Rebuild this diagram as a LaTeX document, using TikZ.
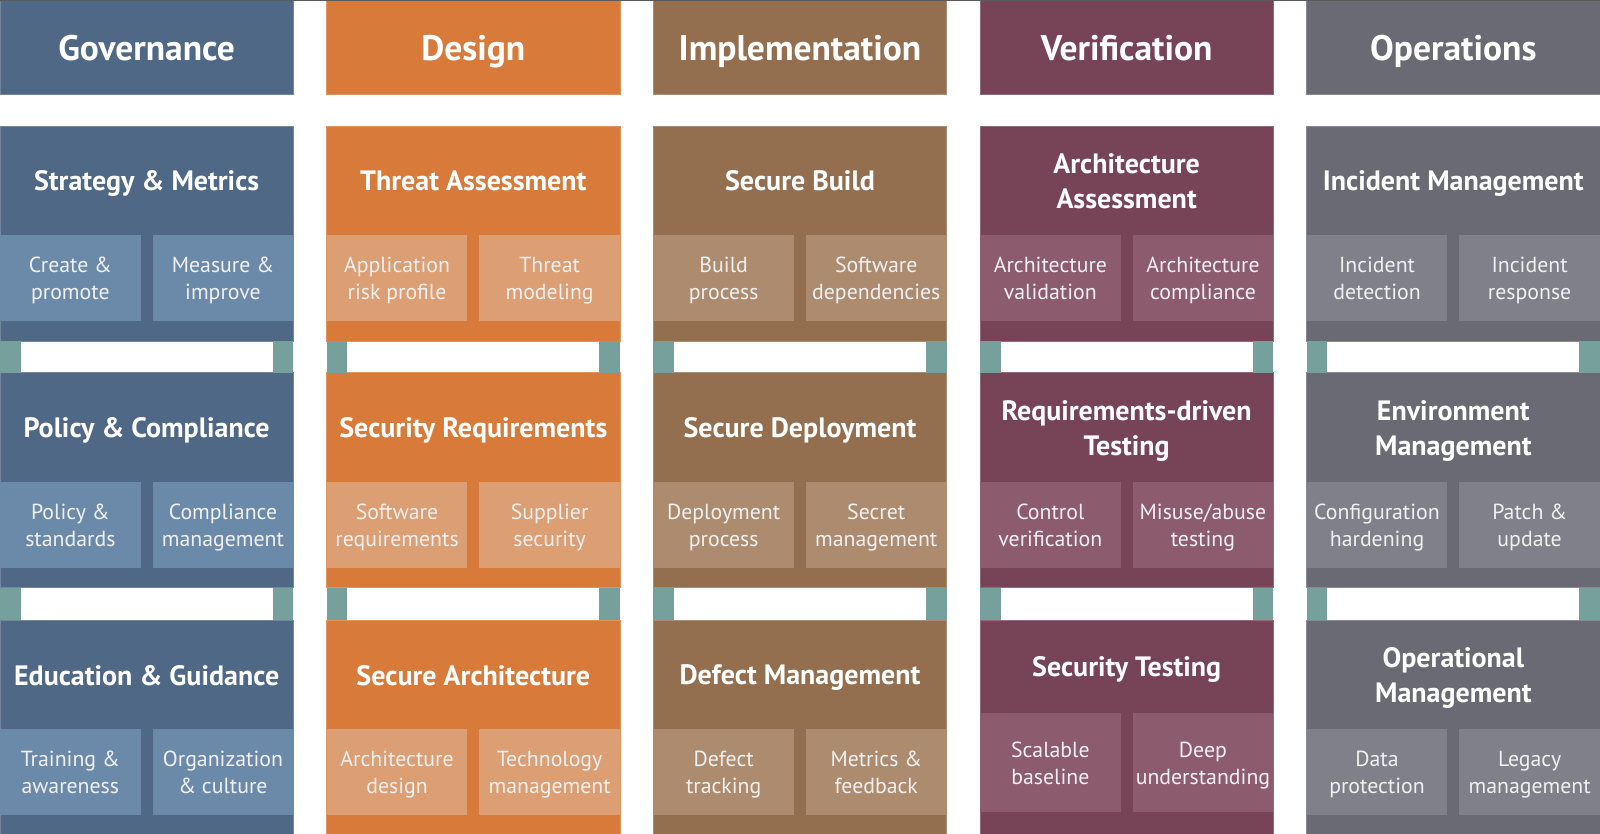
\documentclass[tikz,border=0pt]{standalone}
\usepackage{fontspec}
\setmainfont{PT Sans}
\definecolor{govD}{HTML}{4F6885}\definecolor{govL}{HTML}{6B8AAA}
\definecolor{desD}{HTML}{D87B3A}\definecolor{desL}{HTML}{DC9E73}
\definecolor{impD}{HTML}{946F4F}\definecolor{impL}{HTML}{AD8B6F}
\definecolor{verD}{HTML}{774357}\definecolor{verL}{HTML}{8C5B6E}
\definecolor{opsD}{HTML}{6A6A74}\definecolor{opsL}{HTML}{80808A}
\definecolor{tealc}{HTML}{76A09C}
\definecolor{topline}{HTML}{5A5A5A}
% line strut centred on the cap height
\newcommand\ls{\rule[-0.2em]{0pt}{1.15em}}
\tikzset{
  box/.style={anchor=north west, inner sep=0pt, outer sep=0pt, align=center, text=white},
  headbox/.style={box, minimum width=293.3pt, minimum height=94pt, font=\fontsize{35.5}{40}\selectfont\bfseries},
  blockbg/.style={box, minimum width=293.3pt, minimum height=215pt},
  titlebox/.style={box, minimum width=293.3pt, font=\fontsize{28}{35}\selectfont\bfseries},
  subbox/.style={box, minimum width=140.7pt, text=white!94!black, font=\fontsize{21.8}{27}\selectfont},
  tealbar/.style={fill=tealc},
}
% #1 name, #2 x, #3 y, #4 colour prefix, #5 title, #6 sub a, #7 sub b, #8 title height, #9 sub height
\newcommand\practice[9]{%
  \node[blockbg, fill=#4D, draw=#4D!80!white, line width=0.6pt] (#1) at (#2,#3) {};
  \node[titlebox, minimum height=#8pt] (#1-t) at (#2,#3) {\ls #5};
  \node[subbox, fill=#4L, minimum height=#9pt] (#1-a) at (#2,{#3+#8}) {\ls #6};
  \node[subbox, fill=#4L, minimum height=#9pt] (#1-b) at ({#2+152.6},{#3+#8}) {\ls #7};
}
\newcommand\link[2]{%
  \fill[tealbar] (#1.south west) rectangle ([xshift=20.7pt]#2.north west);
  \fill[tealbar] ([xshift=-20.7pt]#1.south east) rectangle (#2.north east);
}
\begin{document}
\begin{tikzpicture}[x=1pt,y=-1pt]
\useasboundingbox[fill=white] (0,0) rectangle (1600,834);
\begin{scope}
\clip (0,0) rectangle (1600,834);
% headers
\node[headbox, fill=govD, draw=govD!80!white, line width=0.6pt] (h1) at (0,0) {\ls Governance};
\node[headbox, fill=desD, draw=desD!80!white, line width=0.6pt] (h2) at (326.67,0) {\ls Design};
\node[headbox, fill=impD, draw=impD!80!white, line width=0.6pt] (h3) at (653.33,0) {\ls Implementation};
\node[headbox, fill=verD, draw=verD!80!white, line width=0.6pt] (h4) at (980,0) {\ls Verification};
\node[headbox, fill=opsD, draw=opsD!80!white, line width=0.6pt] (h5) at (1306.67,0) {\ls Operations};
% Governance
\practice{g1}{0}{126}{gov}{Strategy \& Metrics}{Create \&\\\ls promote}{Measure \&\\\ls improve}{109}{86}
\practice{g2}{0}{372.7}{gov}{Policy \& Compliance}{Policy \&\\\ls standards}{Compliance\\\ls management}{109.6}{86}
\practice{g3}{0}{620}{gov}{Education \& Guidance}{Training \&\\\ls awareness}{Organization\\\ls \& culture}{109}{86}
% Design
\practice{d1}{326.67}{126}{des}{Threat Assessment}{Application\\\ls risk profile}{Threat\\\ls modeling}{109}{86}
\practice{d2}{326.67}{372.7}{des}{Security Requirements}{Software\\\ls requirements}{Supplier\\\ls security}{109.6}{86}
\practice{d3}{326.67}{620}{des}{Secure Architecture}{Architecture\\\ls design}{Technology\\\ls management}{109}{86}
% Implementation
\practice{i1}{653.33}{126}{imp}{Secure Build}{Build\\\ls process}{Software\\\ls dependencies}{109}{86}
\practice{i2}{653.33}{372.7}{imp}{Secure Deployment}{Deployment\\\ls process}{Secret\\\ls management}{109.6}{86}
\practice{i3}{653.33}{620}{imp}{Defect Management}{Defect\\\ls tracking}{Metrics \&\\\ls feedback}{109}{86}
% Verification
\practice{v1}{980}{126}{ver}{Architecture\\\ls Assessment}{Architecture\\\ls validation}{Architecture\\\ls compliance}{109}{86}
\practice{v2}{980}{372.7}{ver}{Requirements-driven\\\ls Testing}{Control\\\ls verification}{Misuse/abuse\\\ls testing}{109.6}{86}
\practice{v3}{980}{620}{ver}{Security Testing}{Scalable\\\ls baseline}{Deep\\\ls understanding}{93.3}{99}
% Operations
\practice{o1}{1306.67}{126}{ops}{Incident Management}{Incident\\\ls detection}{Incident\\\ls response}{109}{86}
\practice{o2}{1306.67}{372.7}{ops}{Environment\\\ls Management}{Configuration\\\ls hardening}{Patch \&\\\ls update}{109.6}{86}
\practice{o3}{1306.67}{620}{ops}{Operational\\\ls Management}{Data\\\ls protection}{Legacy\\\ls management}{109}{86}
% teal links
\link{g1}{g2}\link{g2}{g3}
\link{d1}{d2}\link{d2}{d3}
\link{i1}{i2}\link{i2}{i3}
\link{v1}{v2}\link{v2}{v3}
\link{o1}{o2}\link{o2}{o3}
\end{scope}
\draw[topline, line width=1.2pt] (h1.north west) -- (h5.north east);
\end{tikzpicture}
\end{document}
